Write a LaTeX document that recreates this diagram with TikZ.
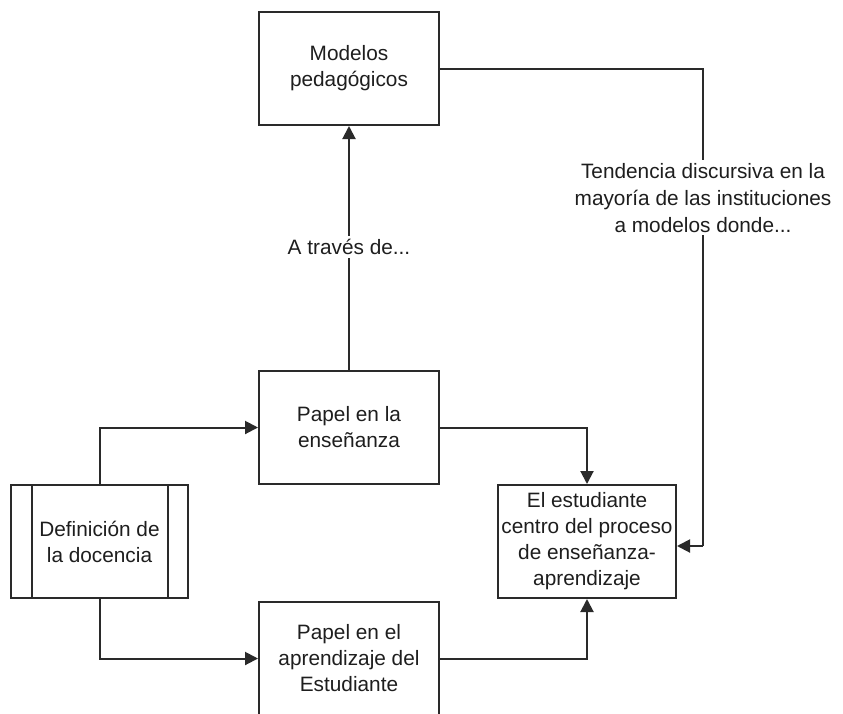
\documentclass[tikz,border=0pt]{standalone}
\usepackage{fontspec}
\setmainfont{Liberation Sans}
\usetikzlibrary{arrows.meta}
\definecolor{ln}{HTML}{2A2A2A}
\definecolor{tx}{HTML}{1E1E1E}
\begin{document}
\begin{tikzpicture}[x=1pt,y=-1pt,
  box/.style={draw=ln,line width=2pt,minimum width=180pt,minimum height=113pt,inner sep=2pt,align=center,text=tx,font=\fontsize{20.8}{26}\selectfont},
  lbl/.style={fill=white,align=center,text=tx,inner sep=3pt,font=\fontsize{20.8}{27}\selectfont},
  conn/.style={draw=ln,line width=2pt},
  arr/.style={conn,-{Triangle[length=13pt,width=13pt]}}]
\useasboundingbox (0,0) rectangle (843,713);
\clip (0,0) rectangle (843,713);
\fill[white] (0,0) rectangle (843,713);
\node[box] (mod) at (349,68.5) {Modelos\\pedagógicos};
\node[box] (ens) at (349,427.5) {Papel en la\\enseñanza};
\node[box,minimum width=178pt] (est) at (587,541.5) {El estudiante\\centro del proceso\\de enseñanza-\\aprendizaje};
\node[box,minimum width=177pt] (def) at (99.5,541.5) {Definición de\\la docencia};
\draw[conn] ([xshift=22pt]def.north west) -- ([xshift=22pt]def.south west);
\draw[conn] ([xshift=-21pt]def.north east) -- ([xshift=-21pt]def.south east);
\node[box] (apr) at (349,658.5) {Papel en el\\aprendizaje del\\Estudiante};
\coordinate (c1) at (703,69);
\coordinate (c2) at (703,546);
\draw[arr] (ens.north) -- node[lbl,pos=0.505] (l1) {A través de...} (mod.south);
\draw[conn] (mod.east |- c1) -- (c1) -- node[lbl,pos=0.27] (l2) {Tendencia discursiva en la\\mayoría de las instituciones\\a modelos donde...} (c2);
\draw[arr] (c2) -- (est.east |- c2);
\draw[arr] (def.north) |- (ens.west);
\draw[arr] (def.south) |- (apr.west);
\draw[arr] (ens.east) -| (est.north);
\draw[arr] (apr.east) -| (est.south);
\end{tikzpicture}
\end{document}
